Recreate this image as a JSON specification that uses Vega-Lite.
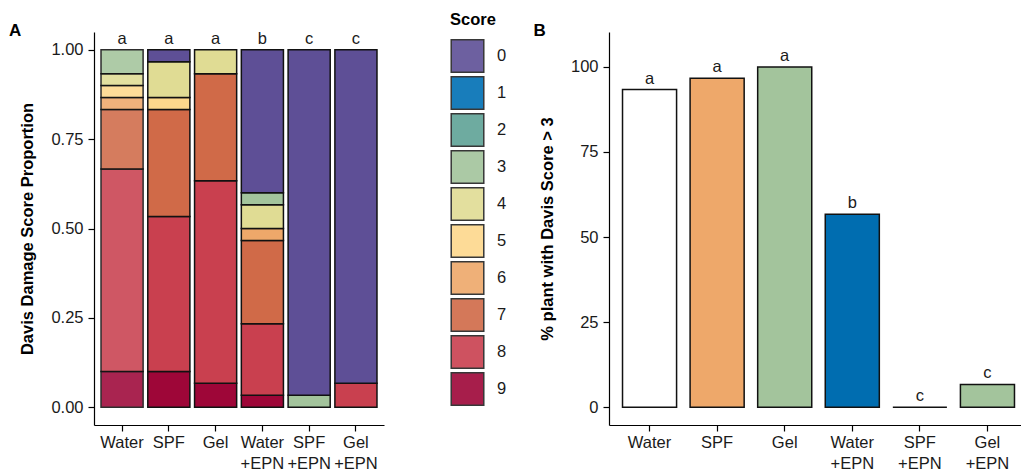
{
  "$schema": "https://vega.github.io/schema/vega-lite/v6.json",
  "padding": {"left": 8, "top": 12, "right": 0, "bottom": 0},
  "background": "white",
  "config": {
    "font": "Liberation Sans",
    "view": {"stroke": null},
    "axis": {
      "grid": false,
      "domainColor": "#000000",
      "domainWidth": 1.2,
      "tickColor": "#000000",
      "tickWidth": 1.2,
      "tickSize": 6,
      "labelFontSize": 16.5,
      "labelColor": "#1a1a1a",
      "titleFontSize": 16.5,
      "titleFontWeight": "bold",
      "titleColor": "#000000",
      "labelPadding": 5
    },
    "title": {"fontSize": 17, "fontWeight": "bold", "color": "#000000"}
  },
  "hconcat": [
    {
      "width": 290,
      "height": 393,
      "title": {"text": "A", "anchor": "start", "frame": "bounds", "offset": -28, "dx": -11},
      "layer": [
        {
          "data": {
            "values": [
              {"Treatment": "Water", "Score": 9, "Proportion": 0.1},
              {"Treatment": "Water", "Score": 8, "Proportion": 0.5667},
              {"Treatment": "Water", "Score": 7, "Proportion": 0.1667},
              {"Treatment": "Water", "Score": 6, "Proportion": 0.0333},
              {"Treatment": "Water", "Score": 5, "Proportion": 0.0333},
              {"Treatment": "Water", "Score": 4, "Proportion": 0.0333},
              {"Treatment": "Water", "Score": 3, "Proportion": 0.0667},
              {"Treatment": "SPF", "Score": 9, "Proportion": 0.1},
              {"Treatment": "SPF", "Score": 8, "Proportion": 0.4333},
              {"Treatment": "SPF", "Score": 7, "Proportion": 0.3},
              {"Treatment": "SPF", "Score": 5, "Proportion": 0.0333},
              {"Treatment": "SPF", "Score": 4, "Proportion": 0.1},
              {"Treatment": "SPF", "Score": 0, "Proportion": 0.0334},
              {"Treatment": "Gel", "Score": 9, "Proportion": 0.0667},
              {"Treatment": "Gel", "Score": 8, "Proportion": 0.5667},
              {"Treatment": "Gel", "Score": 7, "Proportion": 0.3},
              {"Treatment": "Gel", "Score": 4, "Proportion": 0.0666},
              {"Treatment": "Water+EPN", "Score": 9, "Proportion": 0.0333},
              {"Treatment": "Water+EPN", "Score": 8, "Proportion": 0.2},
              {"Treatment": "Water+EPN", "Score": 7, "Proportion": 0.2334},
              {"Treatment": "Water+EPN", "Score": 6, "Proportion": 0.0333},
              {"Treatment": "Water+EPN", "Score": 4, "Proportion": 0.0667},
              {"Treatment": "Water+EPN", "Score": 3, "Proportion": 0.0333},
              {"Treatment": "Water+EPN", "Score": 0, "Proportion": 0.4},
              {"Treatment": "SPF+EPN", "Score": 3, "Proportion": 0.0333},
              {"Treatment": "SPF+EPN", "Score": 0, "Proportion": 0.9667},
              {"Treatment": "Gel+EPN", "Score": 8, "Proportion": 0.0667},
              {"Treatment": "Gel+EPN", "Score": 0, "Proportion": 0.9333}
            ]
          },
          "mark": {"type": "bar", "stroke": "#111111", "strokeWidth": 1.5},
          "encoding": {
            "x": {
              "field": "Treatment", "type": "nominal",
              "sort": ["Water", "SPF", "Gel", "Water+EPN", "SPF+EPN", "Gel+EPN"],
              "scale": {"paddingInner": 0.1, "paddingOuter": 0.15},
              "axis": {
                "title": null, "labelAngle": 0, "labelOverlap": false, "labelBound": false,
                "labelLineHeight": 21, "labelBaseline": "top", "labelPadding": 3,
                "labelExpr": "indexof(datum.value,'+')>0 ? [slice(datum.value,0,indexof(datum.value,'+')), slice(datum.value,indexof(datum.value,'+'))] : datum.value"
              }
            },
            "y": {
              "field": "Proportion", "type": "quantitative", "stack": "zero",
              "scale": {"domain": [-0.05, 1.05], "nice": false, "zero": false},
              "axis": {"title": "Davis Damage Score Proportion", "values": [0, 0.25, 0.5, 0.75, 1], "format": ".2f", "titlePadding": 15}
            },
            "color": {
              "field": "Score", "type": "ordinal",
              "scale": {
                "domain": [0, 1, 2, 3, 4, 5, 6, 7, 8, 9],
                "range": ["#5E4F96", "#0070B4", "#5FA396", "#A3C49C", "#E0DC94", "#FDD88C", "#EEA86A", "#D06A48", "#C9404F", "#9E0638"]
              },
              "legend": {
                "title": "Score",
                "orient": "none",
                "legendX": 356,
                "legendY": -20,
                "symbolType": "square",
                "symbolSize": 1060,
                "symbolStrokeColor": "#222222",
                "symbolStrokeWidth": 1.5,
                "symbolOpacity": 0.9,
                "labelFontSize": 16.5,
                "labelColor": "#1a1a1a",
                "labelOffset": 12,
                "titleFontSize": 16.5,
                "titleFontWeight": "bold",
                "titleColor": "#000000",
                "titlePadding": 10,
                "rowPadding": -2
              }
            },
            "order": {"field": "Score", "sort": "descending"},
            "opacity": {"condition": {"test": "datum.Treatment === 'Water'", "value": 0.88}, "value": 1}
          }
        },
        {
          "data": {
            "values": [
              {"Treatment": "Water", "Letter": "a", "Top": 1},
              {"Treatment": "SPF", "Letter": "a", "Top": 1},
              {"Treatment": "Gel", "Letter": "a", "Top": 1},
              {"Treatment": "Water+EPN", "Letter": "b", "Top": 1},
              {"Treatment": "SPF+EPN", "Letter": "c", "Top": 1},
              {"Treatment": "Gel+EPN", "Letter": "c", "Top": 1}
            ]
          },
          "mark": {"type": "text", "fontSize": 16.5, "color": "#1a1a1a", "baseline": "alphabetic", "dy": -6},
          "encoding": {
            "x": {"field": "Treatment", "type": "nominal", "sort": ["Water", "SPF", "Gel", "Water+EPN", "SPF+EPN", "Gel+EPN"]},
            "y": {"field": "Top", "type": "quantitative"},
            "text": {"field": "Letter"}
          }
        }
      ]
    },
    {
      "width": 419,
      "height": 393,
      "title": {"text": "B", "anchor": "start", "frame": "bounds", "offset": -8, "dx": -6},
      "data": {
        "values": [
          {"Treatment": "Water", "Percent": 93.33, "Letter": "a"},
          {"Treatment": "SPF", "Percent": 96.67, "Letter": "a"},
          {"Treatment": "Gel", "Percent": 100, "Letter": "a"},
          {"Treatment": "Water+EPN", "Percent": 56.67, "Letter": "b"},
          {"Treatment": "SPF+EPN", "Percent": 0, "Letter": "c"},
          {"Treatment": "Gel+EPN", "Percent": 6.67, "Letter": "c"}
        ]
      },
      "encoding": {
        "x": {
          "field": "Treatment", "type": "nominal",
          "sort": ["Water", "SPF", "Gel", "Water+EPN", "SPF+EPN", "Gel+EPN"],
          "scale": {"paddingInner": 0.2, "paddingOuter": 0.2},
          "axis": {
            "title": null, "labelAngle": 0, "labelOverlap": false, "labelBound": false,
            "labelLineHeight": 21, "labelBaseline": "top", "labelPadding": 3,
            "labelExpr": "indexof(datum.value,'+')>0 ? [slice(datum.value,0,indexof(datum.value,'+')), slice(datum.value,indexof(datum.value,'+'))] : datum.value"
          }
        },
        "y": {
          "field": "Percent", "type": "quantitative",
          "scale": {"domain": [-5.25, 110.25], "nice": false, "zero": false},
          "axis": {"title": "% plant with Davis Score > 3", "values": [0, 25, 50, 75, 100], "titlePadding": 15}
        }
      },
      "layer": [
        {
          "mark": {"type": "bar", "stroke": "#111111", "strokeWidth": 1.5},
          "encoding": {
            "y2": {"datum": 0},
            "color": {
              "field": "Treatment", "type": "nominal",
              "scale": {
                "domain": ["Water", "SPF", "Gel", "Water+EPN", "SPF+EPN", "Gel+EPN"],
                "range": ["#FFFFFF", "#EEA86A", "#A3C49C", "#006DB0", "#5E4F96", "#A3C49C"]
              },
              "legend": null
            }
          }
        },
        {
          "mark": {"type": "text", "fontSize": 16.5, "color": "#1a1a1a", "baseline": "alphabetic", "dy": -6},
          "encoding": {"text": {"field": "Letter"}}
        }
      ]
    }
  ],
  "spacing": 26,
  "resolve": {"scale": {"color": "independent", "x": "independent", "y": "independent"}, "legend": {"color": "independent"}}
}
